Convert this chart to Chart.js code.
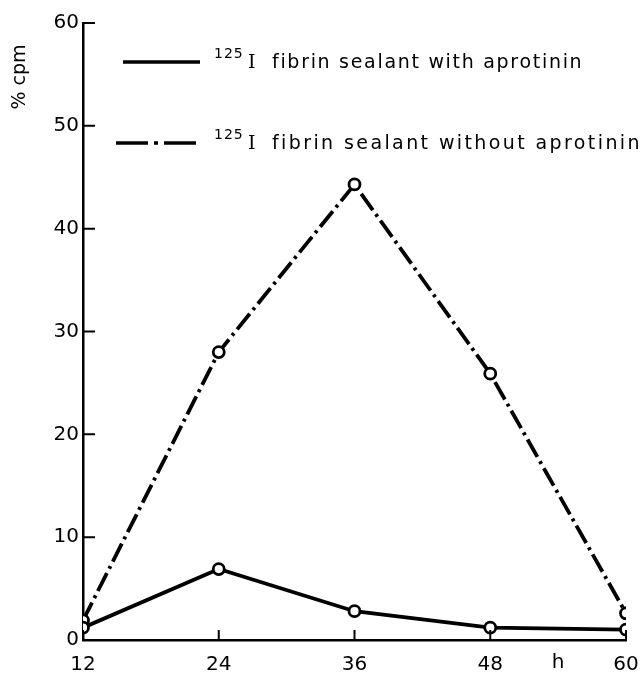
<!DOCTYPE html>
<html>
<head>
<meta charset="utf-8">
<script src="https://cdn.jsdelivr.net/npm/chart.js@4.4.1/dist/chart.umd.min.js"></script>
<style>
  html, body { margin: 0; padding: 0; background: #fff; }
  #wrap { width: 643px; height: 673px; }
</style>
</head>
<body>
<div id="wrap"><canvas id="c" width="643" height="673"></canvas></div>
<script>
// hours after application
const hours = [12, 24, 36, 48, 60];
// % cpm released
const withAprotinin = [1.2, 6.9, 2.8, 1.2, 1.0];
const withoutAprotinin = [1.9, 28.0, 44.3, 25.9, 2.6];
const xTicks = [12, 24, 36, 48, 60];
const yTicks = [0, 10, 20, 30, 40, 50, 60];
const seriesLabels = ['fibrin sealant with aprotinin', 'fibrin sealant without aprotinin'];

const FONT = 'DejaVu Sans';
const dashDot = [20, 5, 3, 5];

// inward ticks, axis unit label, legend
const extras = {
  id: 'extras',
  afterDraw(chart) {
    const ctx = chart.ctx;
    const x = chart.scales.x, y = chart.scales.y;
    ctx.save();
    ctx.strokeStyle = '#000';
    ctx.lineWidth = 2;
    ctx.beginPath();
    yTicks.forEach(v => {
      const py = y.getPixelForValue(v);
      ctx.moveTo(x.left, py);
      ctx.lineTo(x.left + 12, py);
    });
    xTicks.forEach(v => {
      const px = x.getPixelForValue(v);
      ctx.moveTo(px, y.bottom);
      ctx.lineTo(px, y.bottom - 10);
    });
    ctx.stroke();

    ctx.fillStyle = '#000';
    ctx.font = '20px ' + FONT;
    ctx.textAlign = 'center';
    ctx.textBaseline = 'middle';
    ctx.fillText('h', x.getPixelForValue(54), 663);

    // y unit
    ctx.save();
    ctx.translate(20, 77);
    ctx.rotate(-Math.PI / 2);
    ctx.font = '19px ' + FONT;
    ctx.fillText('% cpm', 0, 0);
    ctx.restore();

    // legend
    const rows = [62, 143];
    const legendDash = [[], [32, 6, 4, 6]];
    const spacing = ['1.7px', '2.4px'];
    chart.data.datasets.forEach((ds, i) => {
      const ly = rows[i];
      ctx.lineWidth = 3.5;
      ctx.setLineDash(legendDash[i]);
      ctx.beginPath();
      ctx.moveTo(i ? 116 : 123, ly);
      ctx.lineTo(200, ly);
      ctx.stroke();
      ctx.setLineDash([]);
      ctx.textAlign = 'left';
      ctx.textBaseline = 'alphabetic';
      ctx.letterSpacing = '1px';
      ctx.font = '14px ' + FONT;
      ctx.fillText('125', 214, ly - 4);
      ctx.letterSpacing = '0px';
      ctx.font = '19px "DejaVu Serif"';
      ctx.fillText('I', 248, ly + 6);
      ctx.letterSpacing = spacing[i];
      ctx.font = '19px ' + FONT;
      ctx.fillText(seriesLabels[i], 272, ly + 6);
      ctx.letterSpacing = '0px';
    });
    ctx.restore();
  }
};

new Chart(document.getElementById('c'), {
  type: 'line',
  data: {
    datasets: [
      {
        label: seriesLabels[0],
        data: hours.map((h, i) => ({ x: h, y: withAprotinin[i] })),
        borderColor: '#000',
        borderWidth: 3.8,
        pointRadius: 5.5,
        pointBorderWidth: 2.8,
        pointBackgroundColor: '#fff',
        pointBorderColor: '#000',
        tension: 0
      },
      {
        label: seriesLabels[1],
        data: hours.map((h, i) => ({ x: h, y: withoutAprotinin[i] })),
        borderColor: '#000',
        borderWidth: 3.8,
        borderDash: dashDot,
        pointRadius: 5.5,
        pointBorderWidth: 2.8,
        pointBackgroundColor: '#fff',
        pointBorderColor: '#000',
        tension: 0
      }
    ]
  },
  options: {
    responsive: false,
    animation: false,
    layout: { padding: { left: 0, right: 17, top: 23, bottom: 0 } },
    plugins: { legend: { display: false }, tooltip: { enabled: false } },
    scales: {
      x: {
        type: 'linear',
        min: 12, max: 60,
        afterBuildTicks: s => { s.ticks = xTicks.map(v => ({ value: v })); },
        afterFit: s => { s.height = 33; s.paddingLeft = 0; s.paddingRight = 0; },
        grid: { display: false, drawTicks: false },
        border: { display: true, color: '#000', width: 2.5 },
        ticks: { color: '#000', font: { family: FONT, size: 20 }, padding: 13 }
      },
      y: {
        min: 0, max: 60,
        afterBuildTicks: s => { s.ticks = yTicks.map(v => ({ value: v })); },
        afterFit: s => { s.width = 83; s.paddingTop = 0; s.paddingBottom = 0; },
        grid: { display: false, drawTicks: false },
        border: { display: true, color: '#000', width: 2.5 },
        ticks: { color: '#000', font: { family: FONT, size: 20 }, padding: 4 }
      }
    }
  },
  plugins: [extras]
});
</script>
</body>
</html>
